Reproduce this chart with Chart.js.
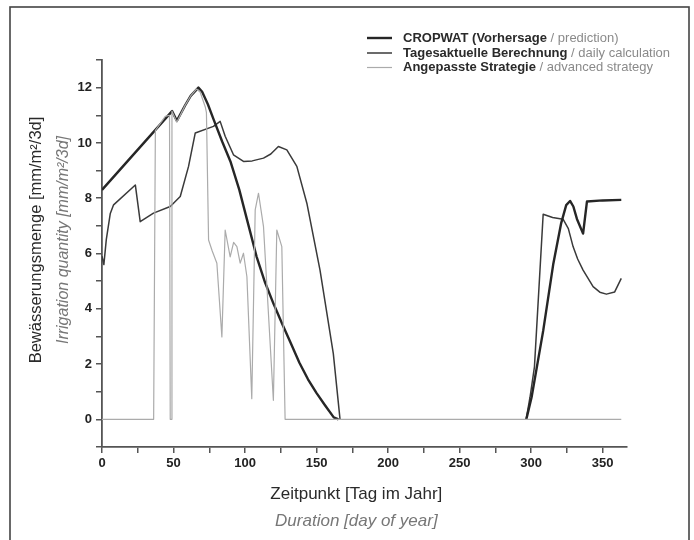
<!DOCTYPE html>
<html>
<head>
<meta charset="utf-8">
<script src="https://cdn.jsdelivr.net/npm/chart.js@4.4.0/dist/chart.umd.min.js"></script>
<style>
  html, body { margin: 0; padding: 0; background: #fff; }
  #wrap { position: relative; width: 694px; height: 540px; overflow: hidden; }
</style>
</head>
<body>
<div id="wrap"><canvas id="chart" width="694" height="540"></canvas></div>
<script>
// ---- data ----
const cropwatDays   = [0, 49, 52.3, 58, 62, 67.4, 70, 74, 78, 84, 90, 96, 102, 108, 114, 120, 126, 132, 138, 144, 150, 156, 162, 165.3,
                       230, 296.6, 300.3, 308.4, 315.4, 321, 324.5, 327.2, 329.5, 332, 336.3, 339, 350, 363];
const cropwatValues = [8.3, 11.15, 10.8, 11.35, 11.7, 12.0, 11.85, 11.4, 10.85, 10.05, 9.3, 8.3, 7.1, 5.9, 4.95, 4.17, 3.45, 2.75, 2.05, 1.45, 0.95, 0.5, 0.07, 0,
                       null, 0, 0.8, 3.2, 5.6, 7.1, 7.75, 7.9, 7.7, 7.25, 6.72, 7.88, 7.92, 7.94];

const dailyDays   = [0, 1.3, 3, 5.8, 8.1, 23.3, 26.7, 36, 47.7, 54.7, 60.5, 65.2, 77.9, 82.6, 86.1, 91.9, 98.9, 105, 112.9, 118, 123.3, 129.2, 136.2, 143.2, 152.4, 161.7, 166.4,
                     230, 296.5, 299.2, 302.3, 308.4, 315, 322.3, 326, 329.3, 332.5, 336.3, 343.3, 348, 352.6, 358.4, 363];
const dailyValues = [5.9, 5.6, 6.5, 7.45, 7.76, 8.48, 7.15, 7.46, 7.7, 8.06, 9.15, 10.36, 10.6, 10.78, 10.24, 9.57, 9.33, 9.35, 9.45, 9.6, 9.87, 9.75, 9.15, 7.82, 5.4, 2.38, 0,
                     null, 0, 0.8, 1.9, 7.42, 7.3, 7.24, 6.9, 6.25, 5.8, 5.4, 4.8, 4.6, 4.53, 4.61, 5.1];

const advancedDays   = [0, 36.1, 37.3, 44.2, 47.2, 47.7, 48.4, 48.9, 52.3, 58, 62, 66, 68.6, 72.2, 73, 74.5, 77, 80.3, 83.8, 86.1, 89.6, 92, 94.3, 96.6, 98.9,
                        101.3, 104.7, 107.1, 109.4, 112.9, 119.8, 122.2, 125.7, 128, 363];
const advancedValues = [0, 0, 10.45, 10.96, 11.0, 0, 0, 11.15, 10.75, 11.35, 11.7, 11.95, 11.84, 11.3, 11.1, 6.49, 6.1, 5.65, 2.98, 6.85, 5.88, 6.4, 6.25, 5.65, 6.01,
                        5.16, 0.75, 7.58, 8.18, 6.97, 0.69, 6.85, 6.25, 0, 0];

const xTickValues = [0, 25, 50, 75, 100, 125, 150, 175, 200, 225, 250, 275, 300, 325, 350];
const yTickValues = [-1, 0, 1, 2, 3, 4, 5, 6, 7, 8, 9, 10, 11, 12, 13];

const seriesNames = [
  ['CROPWAT (Vorhersage', ' / prediction)'],
  ['Tagesaktuelle Berechnung', ' / daily calculation'],
  ['Angepasste Strategie', ' / advanced strategy']
];
const yTitle = ['Bewässerungsmenge [mm/m²/3d]', 'Irrigation quantity [mm/m²/3d]'];
const xTitle = ['Zeitpunkt [Tag im Jahr]', 'Duration [day of year]'];

// ---- helpers ----
const FONT = '"Liberation Sans", Arial, sans-serif';
const lineColors = ['#262626', '#3a3a3a', '#ababab'];
const lineWidths = [2.4, 1.5, 1.2];

function toPoints(days, values) {
  return days.map((d, i) => ({ x: d, y: values[i] }));
}

// draws the two-line axis titles, the mixed-style legend and the outer frame
const decorations = {
  id: 'decorations',
  afterDraw(chart) {
    const ctx = chart.ctx;
    ctx.save();

    // frame
    ctx.strokeStyle = '#444';
    ctx.lineWidth = 1.6;
    ctx.strokeRect(10, 7, 679, 600);

    // y title
    ctx.save();
    ctx.translate(36, 240);
    ctx.rotate(-Math.PI / 2);
    ctx.textAlign = 'center';
    ctx.textBaseline = 'middle';
    ctx.font = '16.5px ' + FONT;
    ctx.fillStyle = '#2a2a2a';
    ctx.fillText(yTitle[0], 0, 0);
    ctx.font = 'italic 16px ' + FONT;
    ctx.fillStyle = '#777';
    ctx.fillText(yTitle[1], 0, 28);
    ctx.restore();

    // x title
    const xs = chart.scales.x;
    const cx = (xs.left + xs.getPixelForValue(350)) / 2 + 4;
    ctx.textAlign = 'center';
    ctx.textBaseline = 'middle';
    ctx.font = '17px ' + FONT;
    ctx.fillStyle = '#2a2a2a';
    ctx.fillText(xTitle[0], cx, 494);
    ctx.font = 'italic 17px ' + FONT;
    ctx.fillStyle = '#777';
    ctx.fillText(xTitle[1], cx, 521);

    // legend
    const rowsY = [38, 53, 67.5];
    ctx.textAlign = 'left';
    seriesNames.forEach((name, i) => {
      const y = rowsY[i];
      ctx.strokeStyle = lineColors[i];
      ctx.lineWidth = lineWidths[i];
      ctx.beginPath();
      ctx.moveTo(367, y);
      ctx.lineTo(392, y);
      ctx.stroke();
      ctx.font = 'bold 13px ' + FONT;
      ctx.fillStyle = '#2a2a2a';
      ctx.fillText(name[0], 403, y);
      const w = ctx.measureText(name[0]).width;
      ctx.font = '13px ' + FONT;
      ctx.fillStyle = '#8a8a8a';
      ctx.fillText(name[1], 403 + w, y);
    });

    ctx.restore();
  }
};

new Chart(document.getElementById('chart'), {
  type: 'line',
  data: {
    datasets: [
      {
        label: seriesNames[2].join(''),
        data: toPoints(advancedDays, advancedValues),
        borderColor: lineColors[2], borderWidth: lineWidths[2], order: 0
      },
      {
        label: seriesNames[0].join(''),
        data: toPoints(cropwatDays, cropwatValues),
        borderColor: lineColors[0], borderWidth: lineWidths[0], order: 1
      },
      {
        label: seriesNames[1].join(''),
        data: toPoints(dailyDays, dailyValues),
        borderColor: lineColors[1], borderWidth: lineWidths[1], order: 2
      }
    ]
  },
  options: {
    responsive: false,
    animation: false,
    layout: { padding: { top: 60, right: 67, bottom: 0, left: 0 } },
    elements: { point: { radius: 0 }, line: { tension: 0, fill: false, borderJoinStyle: 'round' } },
    plugins: { legend: { display: false }, tooltip: { enabled: false } },
    scales: {
      x: {
        type: 'linear', min: 0, max: 367,
        afterBuildTicks: s => { s.ticks = xTickValues.map(v => ({ value: v })); },
        afterFit: s => { s.height = 93; },
        ticks: {
          callback: v => (v % 50 === 0 ? v : ''),
          autoSkip: false, maxRotation: 0, padding: 3,
          color: '#222', font: { family: FONT, size: 13, weight: 'bold' }
        },
        grid: { drawOnChartArea: false, tickLength: 6, color: '#555', lineWidth: 1.5 },
        border: { color: '#555', width: 1.8 }
      },
      y: {
        type: 'linear', min: -1, max: 13,
        afterBuildTicks: s => { s.ticks = yTickValues.map(v => ({ value: v })); },
        afterFit: s => { s.width = 102; },
        ticks: {
          callback: v => (v >= 0 && v % 2 === 0 ? v : ''),
          autoSkip: false, padding: 4,
          color: '#222', font: { family: FONT, size: 13, weight: 'bold' }
        },
        grid: { drawOnChartArea: false, tickLength: 6, color: '#555', lineWidth: 1.5 },
        border: { color: '#555', width: 1.8 }
      }
    }
  },
  plugins: [decorations]
});
</script>
</body>
</html>
